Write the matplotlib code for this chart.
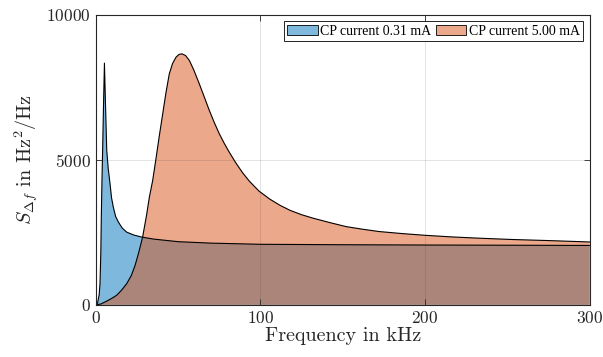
import matplotlib
matplotlib.use("Agg")
import matplotlib.pyplot as plt

# Werte (Frequenz in kHz, S in Hz^2/Hz)
f_low = [0, 1.0, 2.0, 2.5, 3.0, 3.3, 3.7, 4.1, 4.7, 5.2, 5.8, 6.6, 7.5, 8.6, 9.5,
         10.6, 12.0, 13.7, 16.0, 18.7, 23.0, 27.8, 35, 50, 70, 100, 150, 200, 250, 300]
s_low = [0, 60, 350, 730, 1800, 3030, 4300, 5330, 7050, 8340, 7000, 5330, 4700, 4180, 3700,
         3370, 3050, 2855, 2650, 2510, 2410, 2340, 2270, 2180, 2130, 2090, 2075, 2065, 2058, 2050]

f_high = [0, 3, 6.6, 9.5, 12.6, 15.5, 18.7, 21.5, 23.8, 26.0, 28.4, 30.8, 32.5, 34.5, 36.5,
          38.5, 40.6, 42.6, 44.6, 46.6, 48.7, 50.5, 52.3, 54.5, 56.8, 59.5, 62.8, 65.8, 68.9,
          72.0, 75.0, 78.0, 81.0, 85.0, 89.1, 93.2, 99.0, 105.6, 112.0, 118.0, 125.0, 132.0,
          142.0, 152.0, 162.0, 172.0, 186.0, 200.0, 216.0, 233.0, 253.0, 274.0, 300.0]
s_high = [0, 30, 130, 220, 330, 500, 730, 1010, 1360, 1800, 2340, 3100, 3720, 4290, 5040,
          5820, 6590, 7330, 7970, 8330, 8545, 8640, 8660, 8600, 8430, 8100, 7630, 7180, 6710,
          6280, 5900, 5570, 5270, 4900, 4560, 4270, 3930, 3650, 3430, 3260, 3110, 2990,
          2840, 2700, 2610, 2530, 2460, 2400, 2345, 2300, 2255, 2220, 2170]

labels = ["CP current 0.31 mA", "CP current 5.00 mA"]
blue = (0.0, 0.447, 0.741)
orange = (0.85, 0.325, 0.098)

plt.rcParams["mathtext.fontset"] = "cm"
plt.rcParams["font.family"] = "serif"
plt.rcParams["font.serif"] = ["cmr10", "DejaVu Serif"]
plt.rcParams["axes.formatter.use_mathtext"] = True

fig = plt.figure(figsize=(6.03, 3.57), dpi=100)
ax = fig.add_axes([0.159, 0.146, 0.819, 0.812])

ax.fill_between(f_low, s_low, 0, facecolor=blue, alpha=0.5, edgecolor="none", label=labels[0])
ax.plot(f_low, s_low, color="black", lw=0.8)
ax.fill_between(f_high, s_high, 0, facecolor=orange, alpha=0.5, edgecolor="none", label=labels[1])
ax.plot(f_high, s_high, color="black", lw=0.8)

ax.set_xlim(0, 300)
ax.set_ylim(0, 10000)
ax.set_xticks([0, 100, 200, 300])
ax.set_yticks([0, 5000, 10000])
ax.grid(True, color="0.15", alpha=0.15, lw=0.6)
ax.set_axisbelow(False)
ax.tick_params(direction="in", length=4, width=0.6, top=True, right=True,
               labelsize=12.5, colors="0.15")
for sp in ax.spines.values():
    sp.set_color("0.15")
    sp.set_linewidth(0.8)

ax.set_xlabel("Frequency in kHz", fontsize=14.5, color="0.15", labelpad=1)
ax.set_ylabel(r"$S_{\Delta f}$ in $\mathrm{Hz}^2/\mathrm{Hz}$", fontsize=14.5, color="0.15")

leg = ax.legend(loc="upper right", ncol=2, fancybox=False, framealpha=1,
                edgecolor="black", handlelength=2.2, handletextpad=0.2, columnspacing=0.3,
                borderpad=0.25, borderaxespad=0.45, prop={"family": "Liberation Serif", "size": 10})
leg.get_frame().set_linewidth(0.6)
for h in leg.legend_handles:
    h.set_edgecolor("black")
    h.set_linewidth(0.6)

fig.savefig("out.png", dpi=100)
